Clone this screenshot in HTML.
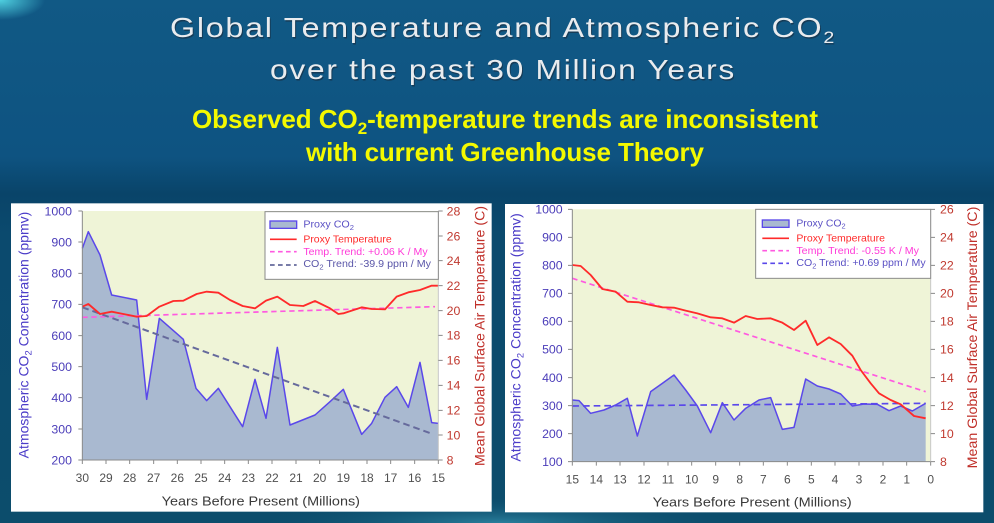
<!DOCTYPE html>
<html><head><meta charset="utf-8"><style>
html,body{margin:0;padding:0;background:#0c4f78;}
svg{display:block;}
text{font-family:"Liberation Sans",Arial,sans-serif;}
</style></head><body>
<svg width="994" height="523" viewBox="0 0 994 523" xmlns="http://www.w3.org/2000/svg">
<defs>
<linearGradient id="bg" x1="0" y1="0" x2="0" y2="1">
<stop offset="0" stop-color="#115985"/>
<stop offset="0.3" stop-color="#0e5381"/>
<stop offset="0.37" stop-color="#094469"/>
<stop offset="0.45" stop-color="#0b4a6e"/>
<stop offset="1" stop-color="#0c4d6c"/>
</linearGradient>
<radialGradient id="cy" cx="0" cy="0" r="1" gradientUnits="userSpaceOnUse" gradientTransform="translate(0,0) scale(45,20)">
<stop offset="0" stop-color="#4fd0e0"/>
<stop offset="1" stop-color="#4fd0e0" stop-opacity="0"/>
</radialGradient>
<radialGradient id="bot" cx="0.5" cy="1" r="0.5">
<stop offset="0" stop-color="#2a7f9c"/>
<stop offset="1" stop-color="#0c4d6c" stop-opacity="0"/>
</radialGradient>
</defs>
<rect x="0" y="0" width="994" height="523" fill="url(#bg)"/>
<rect x="0" y="0" width="60" height="25" fill="url(#cy)"/>
<rect x="250" y="470" width="500" height="53" fill="url(#bot)"/>

<!-- Titles -->
<g fill="#1a2a3a" opacity="0.6">
<text x="171" y="38.5" font-size="28" letter-spacing="1.5" textLength="666" lengthAdjust="spacingAndGlyphs">Global Temperature and Atmospheric CO<tspan font-size="17" dy="6">2</tspan></text>
<text x="271" y="80.5" font-size="28" letter-spacing="1.5" textLength="466" lengthAdjust="spacingAndGlyphs">over the past 30 Million Years</text>
</g>
<g fill="#e9ecef">
<text x="170" y="37" font-size="28" letter-spacing="1.5" textLength="666" lengthAdjust="spacingAndGlyphs">Global Temperature and Atmospheric CO<tspan font-size="17" dy="6">2</tspan></text>
<text x="270" y="79" font-size="28" letter-spacing="1.5" textLength="466" lengthAdjust="spacingAndGlyphs">over the past 30 Million Years</text>
</g>
<g fill="#f4f900" font-weight="bold">
<text x="192" y="128" font-size="26" textLength="626" lengthAdjust="spacing">Observed CO<tspan font-size="17" dy="6">2</tspan><tspan dy="-6">-temperature trends are inconsistent</tspan></text>
<text x="306" y="161" font-size="26" textLength="398" lengthAdjust="spacing">with current Greenhouse Theory</text>
</g>

<!-- LEFT CHART (zoom coords) -->
<g transform="translate(0,190) scale(0.333333)">
<rect x="33" y="40" width="1442" height="925" fill="#ffffff"/>
<rect x="247" y="63" width="1068" height="747" fill="#eff4d7"/>
<polygon fill="#a9b9d0" points="247,810 247,175 265,125 300,195 335,315 410,330 440,628 478,385 550,448 588,595 620,632 655,595 728,710 765,568 798,685 832,472 870,705 945,675 990,635 1030,598 1085,733 1115,700 1155,622 1190,590 1225,652 1260,517 1295,698 1315,700 1315,810"/>
<polyline fill="none" stroke="#5a48ea" stroke-width="4.5" stroke-linejoin="round" points="247,175 265,125 300,195 335,315 410,330 440,628 478,385 550,448 588,595 620,632 655,595 728,710 765,568 798,685 832,472 870,705 945,675 990,635 1030,598 1085,733 1115,700 1155,622 1190,590 1225,652 1260,517 1295,698 1315,700"/>
<line x1="247" y1="382" x2="1305" y2="350" stroke="#ff5ae0" stroke-width="5" stroke-dasharray="16,11"/>
<line x1="247" y1="352" x2="1300" y2="733" stroke="#666a9c" stroke-width="6" stroke-dasharray="20,12"/>
<polyline fill="none" stroke="#ff2a2a" stroke-width="5.5" stroke-linejoin="round" points="247,350 265,342 300,372 335,365 370,372 410,380 440,378 478,350 520,333 550,332 590,312 620,305 655,308 690,330 728,348 765,355 798,332 832,320 870,345 910,348 945,333 990,355 1015,372 1030,370 1085,352 1115,357 1155,358 1190,320 1225,307 1260,300 1295,287 1315,287"/>
<!-- axes -->
<g stroke="#8a8a8a" stroke-width="3" fill="none">
<line x1="247" y1="63" x2="247" y2="810"/>
<line x1="247" y1="810" x2="1315" y2="810"/>
<line x1="1315" y1="63" x2="1315" y2="810" stroke="#c8c8c8"/>
<path d="M235 63H247M235 156H247M235 250H247M235 343H247M235 437H247M235 530H247M235 623H247M235 717H247M235 810H247"/>
<path d="M1315 63H1328M1315 138H1328M1315 212H1328M1315 287H1328M1315 362H1328M1315 436H1328M1315 511H1328M1315 586H1328M1315 661H1328M1315 735H1328M1315 810H1328"/>
<path d="M247 810V822M318 810V822M389 810V822M461 810V822M532 810V822M603 810V822M674 810V822M745 810V822M816 810V822M888 810V822M959 810V822M1030 810V822M1101 810V822M1172 810V822M1244 810V822M1315 810V822"/>
</g>
<g fill="#4b3db9" font-size="37" text-anchor="end">
<text x="216" y="76">1000</text><text x="216" y="169">900</text><text x="216" y="263">800</text><text x="216" y="356">700</text><text x="216" y="450">600</text><text x="216" y="543">500</text><text x="216" y="636">400</text><text x="216" y="730">300</text><text x="216" y="823">200</text>
</g>
<g fill="#c0392f" font-size="37">
<text x="1340" y="76">28</text><text x="1340" y="151">26</text><text x="1340" y="225">24</text><text x="1340" y="300">22</text><text x="1340" y="375">20</text><text x="1340" y="449">18</text><text x="1340" y="524">16</text><text x="1340" y="599">14</text><text x="1340" y="674">12</text><text x="1340" y="748">10</text><text x="1340" y="823">8</text>
</g>
<g fill="#505050" font-size="36" text-anchor="middle">
<text x="247" y="876">30</text><text x="318" y="876">29</text><text x="389" y="876">28</text><text x="461" y="876">27</text><text x="532" y="876">26</text><text x="603" y="876">25</text><text x="674" y="876">24</text><text x="745" y="876">23</text><text x="816" y="876">22</text><text x="888" y="876">21</text><text x="959" y="876">20</text><text x="1030" y="876">19</text><text x="1101" y="876">18</text><text x="1172" y="876">17</text><text x="1244" y="876">16</text><text x="1315" y="876">15</text>
</g>
<text x="485" y="946" fill="#3a3a3a" font-size="40" textLength="595" lengthAdjust="spacingAndGlyphs">Years Before Present (Millions)</text>
<text transform="translate(86,805) rotate(-90)" fill="#4b3cc8" font-size="42" textLength="740" lengthAdjust="spacingAndGlyphs">Atmospheric CO<tspan font-size="28" dy="8">2</tspan><tspan dy="-8"> Concentration (ppmv)</tspan></text>
<text transform="translate(1453,828) rotate(-90)" fill="#c0302a" font-size="42" textLength="780" lengthAdjust="spacingAndGlyphs">Mean Global Surface Air Temperature (C)</text>
<!-- legend -->
<rect x="795" y="65" width="520" height="203" fill="#ffffff" stroke="#8a8a8a" stroke-width="3"/>
<rect x="810" y="93" width="80" height="22" fill="#a9b9d0" stroke="#5a48ea" stroke-width="4"/>
<line x1="810" y1="148" x2="890" y2="148" stroke="#ff2a2a" stroke-width="5"/>
<line x1="810" y1="185" x2="890" y2="185" stroke="#ff5ae0" stroke-width="5" stroke-dasharray="14,10"/>
<line x1="810" y1="225" x2="890" y2="225" stroke="#666a9c" stroke-width="5" stroke-dasharray="14,10"/>
<g font-size="31">
<text x="910" y="113" fill="#5a50c4" textLength="152" lengthAdjust="spacingAndGlyphs">Proxy CO<tspan font-size="22" dy="7">2</tspan></text>
<text x="910" y="158" fill="#ff2a2a" textLength="265" lengthAdjust="spacingAndGlyphs">Proxy Temperature</text>
<text x="910" y="195" fill="#ff3ad8" textLength="373" lengthAdjust="spacingAndGlyphs">Temp. Trend: +0.06 K / My</text>
<text x="910" y="231" fill="#5a56a8" textLength="383" lengthAdjust="spacingAndGlyphs">CO<tspan font-size="22" dy="7">2</tspan><tspan dy="-7"> Trend: -39.9 ppm / My</tspan></text>
</g>
</g>

<!-- RIGHT CHART (zoom coords) -->
<g transform="translate(494,190) scale(0.333333)">
<rect x="33" y="42" width="1435" height="925" fill="#ffffff"/>
<rect x="235" y="58" width="1075" height="757" fill="#eff4d7"/>
<polygon fill="#a9b9d0" points="235,815 235,630 255,632 290,670 330,660 365,645 400,625 430,738 470,605 505,580 540,555 575,600 610,648 650,728 685,638 720,690 755,655 795,630 830,623 865,718 900,712 935,567 970,588 1005,597 1040,612 1075,648 1110,642 1150,643 1185,662 1220,648 1255,663 1295,640 1295,815"/>
<polyline fill="none" stroke="#5a48ea" stroke-width="4.5" stroke-linejoin="round" points="235,630 255,632 290,670 330,660 365,645 400,625 430,738 470,605 505,580 540,555 575,600 610,648 650,728 685,638 720,690 755,655 795,630 830,623 865,718 900,712 935,567 970,588 1005,597 1040,612 1075,648 1110,642 1150,643 1185,662 1220,648 1255,663 1295,640"/>
<line x1="235" y1="265" x2="1295" y2="605" stroke="#ff5ae0" stroke-width="5" stroke-dasharray="16,11"/>
<line x1="235" y1="648" x2="1295" y2="640" stroke="#5a48ea" stroke-width="5" stroke-dasharray="20,12"/>
<polyline fill="none" stroke="#ff2a2a" stroke-width="5.5" stroke-linejoin="round" points="235,225 260,228 290,255 325,297 365,305 400,335 435,337 470,345 505,352 540,353 575,362 610,370 650,382 685,385 720,398 755,378 790,387 830,385 865,398 900,420 935,392 970,465 1005,442 1040,462 1075,497 1100,540 1130,580 1155,610 1190,630 1220,643 1260,678 1295,685"/>
<g stroke="#8a8a8a" stroke-width="3" fill="none">
<line x1="235" y1="58" x2="235" y2="815"/>
<line x1="235" y1="815" x2="1310" y2="815"/>
<line x1="1310" y1="58" x2="1310" y2="815" stroke="#c8c8c8"/>
<path d="M222 58H235M222 142H235M222 226H235M222 310H235M222 394H235M222 478H235M222 563H235M222 647H235M222 731H235M222 815H235"/>
<path d="M1310 58H1323M1310 142H1323M1310 226H1323M1310 310H1323M1310 394H1323M1310 478H1323M1310 563H1323M1310 647H1323M1310 731H1323M1310 815H1323"/>
<path d="M235 815V827M307 815V827M378 815V827M450 815V827M522 815V827M593 815V827M665 815V827M737 815V827M808 815V827M880 815V827M952 815V827M1023 815V827M1095 815V827M1167 815V827M1238 815V827M1310 815V827"/>
</g>
<g fill="#4b3db9" font-size="37" text-anchor="end">
<text x="206" y="71">1000</text><text x="206" y="155">900</text><text x="206" y="239">800</text><text x="206" y="323">700</text><text x="206" y="407">600</text><text x="206" y="491">500</text><text x="206" y="576">400</text><text x="206" y="660">300</text><text x="206" y="744">200</text><text x="206" y="828">100</text>
</g>
<g fill="#c0392f" font-size="37">
<text x="1338" y="71">26</text><text x="1338" y="155">24</text><text x="1338" y="239">22</text><text x="1338" y="323">20</text><text x="1338" y="407">18</text><text x="1338" y="491">16</text><text x="1338" y="576">14</text><text x="1338" y="660">12</text><text x="1338" y="744">10</text><text x="1338" y="828">8</text>
</g>
<g fill="#505050" font-size="36" text-anchor="middle">
<text x="235" y="880">15</text><text x="307" y="880">14</text><text x="378" y="880">13</text><text x="450" y="880">12</text><text x="522" y="880">11</text><text x="593" y="880">10</text><text x="665" y="880">9</text><text x="737" y="880">8</text><text x="808" y="880">7</text><text x="880" y="880">6</text><text x="952" y="880">5</text><text x="1023" y="880">4</text><text x="1095" y="880">3</text><text x="1167" y="880">2</text><text x="1238" y="880">1</text><text x="1310" y="880">0</text>
</g>
<text x="476" y="950" fill="#3a3a3a" font-size="40" textLength="597" lengthAdjust="spacingAndGlyphs">Years Before Present (Millions)</text>
<text transform="translate(80,815) rotate(-90)" fill="#4b3cc8" font-size="42" textLength="745" lengthAdjust="spacingAndGlyphs">Atmospheric CO<tspan font-size="28" dy="8">2</tspan><tspan dy="-8"> Concentration (ppmv)</tspan></text>
<text transform="translate(1449,835) rotate(-90)" fill="#c0302a" font-size="42" textLength="785" lengthAdjust="spacingAndGlyphs">Mean Global Surface Air Temperature (C)</text>
<rect x="785" y="58" width="525" height="207" fill="#ffffff" stroke="#8a8a8a" stroke-width="3"/>
<rect x="805" y="90" width="80" height="22" fill="#a9b9d0" stroke="#5a48ea" stroke-width="4"/>
<line x1="805" y1="145" x2="885" y2="145" stroke="#ff2a2a" stroke-width="5"/>
<line x1="805" y1="182" x2="885" y2="182" stroke="#ff5ae0" stroke-width="5" stroke-dasharray="14,10"/>
<line x1="805" y1="220" x2="885" y2="220" stroke="#5a48ea" stroke-width="5" stroke-dasharray="14,10"/>
<g font-size="31">
<text x="907" y="109" fill="#5a50c4" textLength="148" lengthAdjust="spacingAndGlyphs">Proxy CO<tspan font-size="22" dy="7">2</tspan></text>
<text x="907" y="155" fill="#ff2a2a" textLength="266" lengthAdjust="spacingAndGlyphs">Proxy Temperature</text>
<text x="907" y="192" fill="#ff3ad8" textLength="368" lengthAdjust="spacingAndGlyphs">Temp. Trend: -0.55 K / My</text>
<text x="907" y="228" fill="#5a50c4" textLength="388" lengthAdjust="spacingAndGlyphs">CO<tspan font-size="22" dy="7">2</tspan><tspan dy="-7"> Trend: +0.69 ppm / My</tspan></text>
</g>
</g>
</svg>
</body></html>
